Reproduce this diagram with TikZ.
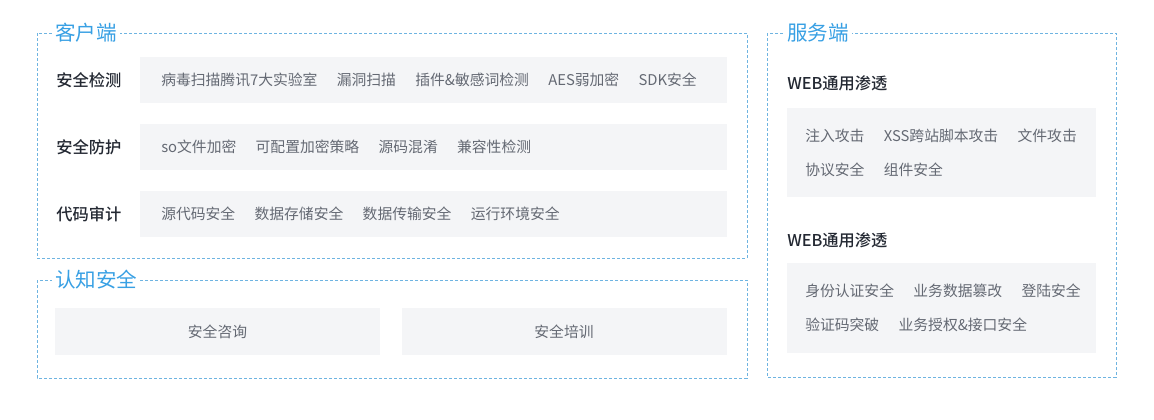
\documentclass[tikz,border=0pt]{standalone}
\usepackage{fontspec}
\setmainfont{Noto Sans CJK SC}
\newfontfamily\medfont{Noto Sans CJK SC Medium}
\usepackage{tikz}
\usetikzlibrary{positioning}
\definecolor{TitleBlue}{RGB}{56,160,228}
\definecolor{FrameBlue}{RGB}{110,180,225}
\definecolor{BoxGray}{RGB}{244,245,247}
\definecolor{ItemGray}{RGB}{100,105,115}
\definecolor{LabelDark}{RGB}{35,40,50}
\newcommand{\gap}{\hspace{14.5pt}}
\tikzset{
  frame/.style={draw=FrameBlue, dash pattern=on 2.25pt off 1.5pt, line width=0.6pt},
  title/.style={fill=white, anchor=west, inner xsep=2.25pt, inner ysep=1pt,
    text=TitleBlue, font=\fontsize{15.4pt}{18pt}\selectfont},
  rowlabel/.style={anchor=west, inner sep=0pt, text=LabelDark,
    font=\medfont\fontsize{12.2pt}{14pt}\selectfont},
  rowbox/.style={anchor=west, fill=BoxGray, text=ItemGray, align=left,
    text width=408.75pt, inner xsep=15.75pt, minimum height=34.5pt,
    font=\fontsize{11.1pt}{13pt}\selectfont},
  plainbox/.style={fill=BoxGray, text=ItemGray, align=center,
    minimum width=243.75pt, minimum height=35.25pt,
    font=\fontsize{11.1pt}{13pt}\selectfont},
  srvbox/.style={anchor=north west, fill=BoxGray, text=ItemGray, align=left,
    text width=204.75pt, inner xsep=13.5pt,
    font=\fontsize{11.1pt}{25.5pt}\selectfont}
}

\begin{document}
\begin{tikzpicture}[x=0.75pt, y=-0.75pt]
  \useasboundingbox (0,0) rectangle (1154,419);
  % frames
  \draw[frame] (37,33) rectangle (747,258);
  \draw[frame] (37,280) rectangle (747,378);
  \draw[frame] (767,33) rectangle (1116,377);
  \node[title] (kh) at (52,33) {客户端};
  \node[title] (rz) at (52,280) {认知安全};
  \node[title] (fw) at (784,33) {服务端};
  % client rows
  \node[rowlabel] (l1) at (56,80) {安全检测};
  \node[rowbox] (r1) at (140,80) {病毒扫描腾讯7大实验室\gap 漏洞扫描\gap 插件\&敏感词检测\gap AES弱加密\gap SDK安全};
  \node[rowlabel] (l2) at (56,147) {安全防护};
  \node[rowbox] (r2) at (140,147) {so文件加密\gap 可配置加密策略\gap 源码混淆\gap 兼容性检测};
  \node[rowlabel] (l3) at (56,214) {代码审计};
  \node[rowbox] (r3) at (140,214) {源代码安全\gap 数据存储安全\gap 数据传输安全\gap 运行环境安全};
  % cognition
  \node[plainbox] (zx) at (217.5,331.5) {安全咨询};
  \node[plainbox] (px) at (564,331.5) {安全培训};
  % server
  \node[rowlabel] (w1) at (787,83) {WEB通用渗透};
  \node[srvbox, minimum height=66.75pt] (b1) at (787,108) {\mbox{注入攻击\gap XSS跨站脚本攻击\gap 文件攻击}\\协议安全\gap 组件安全};
  \node[rowlabel] (w2) at (787,240) {WEB通用渗透};
  \node[srvbox, minimum height=67.5pt] (b2) at (787,263) {\mbox{身份认证安全\gap 业务数据篡改\gap 登陆安全}\\验证码突破\gap 业务授权\&接口安全};
\end{tikzpicture}
\end{document}
